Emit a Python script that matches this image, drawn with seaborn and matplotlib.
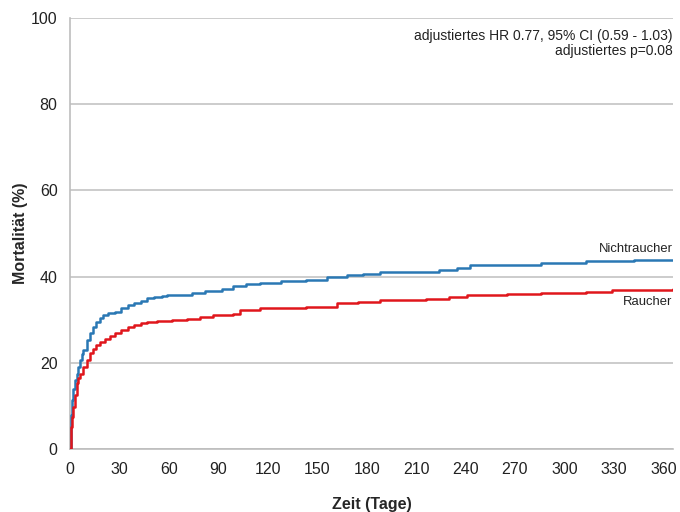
import matplotlib
matplotlib.use("Agg")
import matplotlib.pyplot as plt
import seaborn as sns
import pandas as pd

# Nichtraucher (blue)
days_nr = [0, 0.5, 1, 2, 3, 4, 5, 6, 7, 8, 10, 12, 14, 16, 18, 20, 23, 27, 31, 35, 39, 43, 47, 51,
           56, 59, 66, 74, 82, 92, 99, 107, 115, 128, 143, 156, 168, 178, 188, 200, 216, 224, 235,
           243, 255, 275, 286, 301, 313, 326, 342, 357, 366]
mort_nr = [0, 8, 11.4, 14, 16, 17.5, 19, 20.6, 22, 23, 25.3, 27, 28.4, 29.5, 30.4, 31, 31.5, 31.9,
           32.7, 33.4, 33.8, 34.3, 35, 35.3, 35.6, 35.7, 35.7, 36.2, 36.6, 37.2, 37.7, 38.2, 38.6,
           39.0, 39.3, 39.8, 40.3, 40.6, 41.0, 41.0, 41.0, 41.5, 42.0, 42.7, 42.7, 42.8, 43.1, 43.2,
           43.5, 43.6, 43.9, 43.9, 43.9]

# Raucher (red)
days_r = [0, 0.5, 1, 2, 3, 4, 5, 6, 8, 10, 12, 14, 16, 18, 21, 24, 27, 31, 35, 39, 43, 47, 53, 62,
          71, 79, 87, 99, 103, 115, 128, 143, 162, 175, 188, 200, 216, 230, 241, 265, 286, 301, 313,
          329, 347, 366]
mort_r = [0, 5, 7.5, 9.8, 12.5, 15.3, 16.5, 17.5, 19, 20.7, 22.2, 23.3, 24.2, 24.9, 25.6, 26.3,
          26.8, 27.6, 28.4, 28.8, 29.2, 29.5, 29.7, 29.9, 30.2, 30.7, 31.0, 31.3, 32.2, 32.6, 32.6,
          33.0, 33.8, 34.2, 34.5, 34.5, 34.7, 35.2, 35.7, 35.9, 36.1, 36.3, 36.5, 36.9, 37.0, 37.1]

x_ticks = list(range(0, 361, 30))
y_ticks = [0, 20, 40, 60, 80, 100]

sns.set_theme(style="white")
plt.rcParams['font.family'] = ['Liberation Sans', 'DejaVu Sans']

fig = plt.figure(figsize=(6.8, 5.12), dpi=100)
ax = fig.add_axes([0.103, 0.123, 0.887, 0.842])

df_nr = pd.DataFrame({"Zeit": days_nr, "Mortalität": mort_nr})
df_r = pd.DataFrame({"Zeit": days_r, "Mortalität": mort_r})

sns.lineplot(data=df_nr, x="Zeit", y="Mortalität", ax=ax, color="#2a78b4",
             linewidth=1.8, drawstyle="steps-post", zorder=3)
sns.lineplot(data=df_r, x="Zeit", y="Mortalität", ax=ax, color="#e0161c",
             linewidth=1.8, drawstyle="steps-post", zorder=3)

ax.set_xlim(0, 366)
ax.set_ylim(0, 100)
ax.set_xticks(x_ticks)
ax.set_yticks(y_ticks)
ax.tick_params(axis='both', labelsize=11.5, colors='#222222', length=0)
ax.tick_params(axis='x', pad=9.5)
ax.tick_params(axis='y', pad=9)
ax.yaxis.grid(True, color='#c4c4c4', linewidth=1.2)
ax.xaxis.grid(False)
for s in ['top', 'right']:
    ax.spines[s].set_visible(False)
for s in ['left', 'bottom']:
    ax.spines[s].set_color('#bdbdbd')
    ax.spines[s].set_linewidth(1.2)

ax.set_xlabel("Zeit (Tage)", fontsize=11.5, fontweight='bold', labelpad=14.5)
ax.set_ylabel("Mortalität (%)", fontsize=11.5, fontweight='bold', labelpad=2)

ax.text(0.999, 0.975, "adjustiertes HR 0.77, 95% CI (0.59 - 1.03)\nadjustiertes p=0.08",
        transform=ax.transAxes, ha='right', va='top', fontsize=10, color='#222222',
        linespacing=1.1)
ax.text(0.999, 46.5, "Nichtraucher", transform=ax.get_yaxis_transform(), ha='right',
        va='center', fontsize=9.4, color='#222222')
ax.text(0.999, 34.0, "Raucher", transform=ax.get_yaxis_transform(), ha='right',
        va='center', fontsize=9.4, color='#222222')

fig.savefig("out.png", dpi=100)
